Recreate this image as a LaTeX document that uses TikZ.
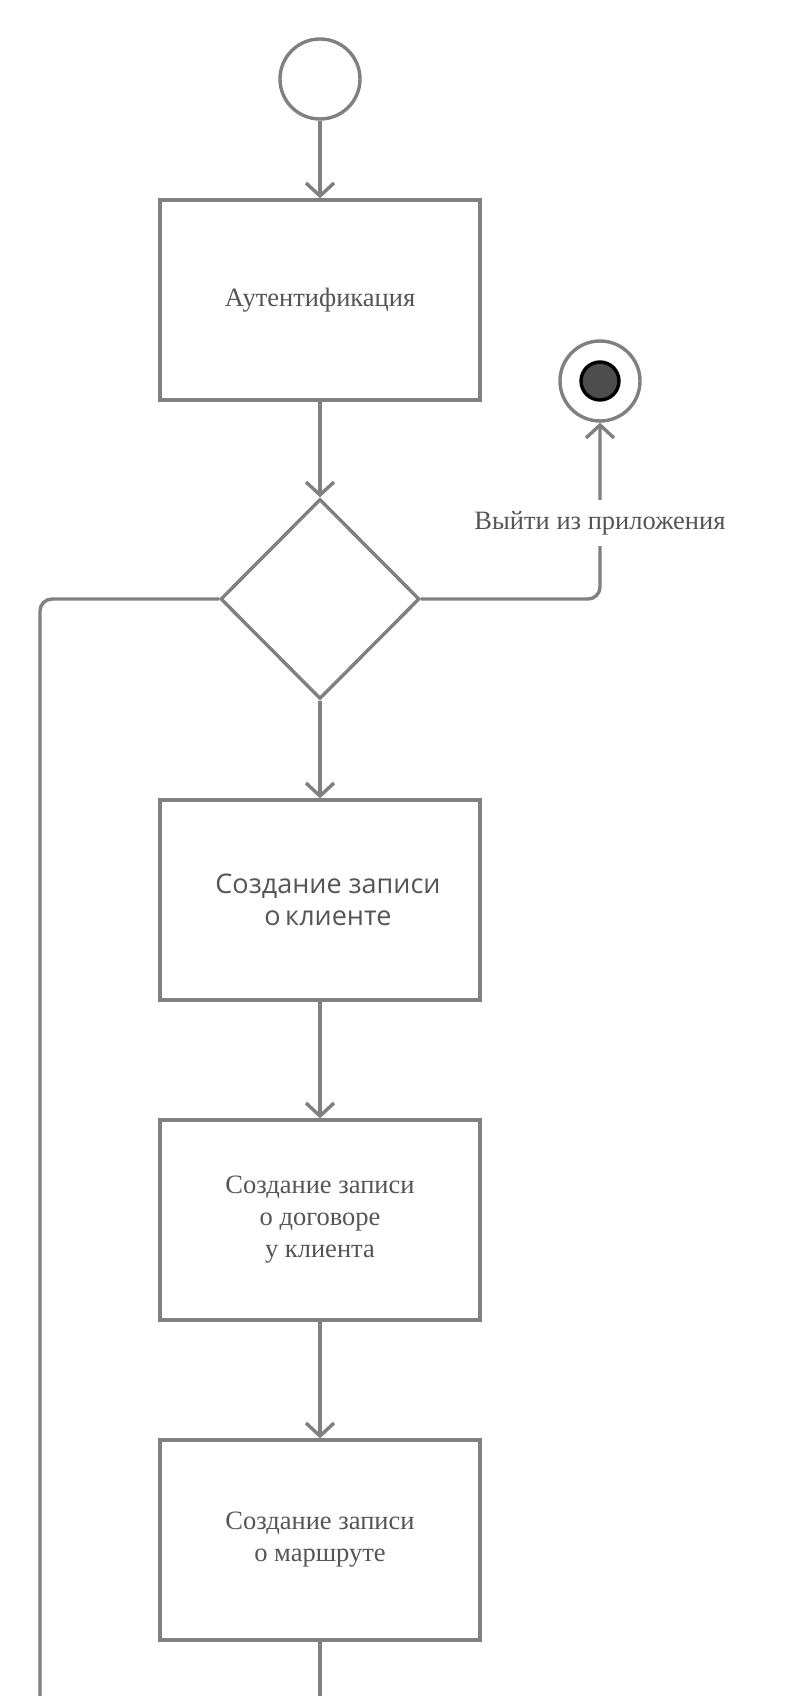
\documentclass[tikz,border=0pt]{standalone}
\usepackage{fontspec}
\setmainfont{Liberation Serif}
\newfontfamily\opensans{Open Sans}
\usetikzlibrary{arrows.meta,shapes.geometric}
\definecolor{linegray}{HTML}{808080}
\definecolor{textgray}{HTML}{555555}
\definecolor{dotfill}{HTML}{4D4D4D}
\begin{document}
\begin{tikzpicture}[x=1pt,y=-1pt,
  line/.style={draw=linegray, line width=3.4pt},
  conn/.style={line, -{Straight Barb[length=13pt,width=28pt]}, rounded corners=12pt},
  plain/.style={line, rounded corners=12pt},
  box/.style={line, fill=white, rectangle, minimum width=320pt, minimum height=200pt, inner sep=0pt, align=center, text=textgray, font=\fontsize{26.5}{32}\selectfont},
  sansbox/.style={box, font=\opensans\fontsize{27}{32}\selectfont},
  startnode/.style={line, circle, fill=white, minimum size=80pt, inner sep=0pt},
  endouter/.style={line, circle, fill=white, minimum size=80pt, inner sep=0pt},
  endinner/.style={circle, draw=black, line width=3.4pt, fill=dotfill, minimum size=38pt, inner sep=0pt},
  decision/.style={line, diamond, fill=white, aspect=1, minimum width=199pt, minimum height=200pt, inner sep=0pt},
  lbl/.style={fill=white, text=textgray, font=\fontsize{26.5}{30}\selectfont, inner xsep=2pt, inner ysep=11pt}
]
\useasboundingbox (0,0) rectangle (788,1696);
\fill[white] (0,0) rectangle (788,1696);

\node[startnode] (start) at (320,79) {};
\node[box] (auth) at (320,300) {Аутентификация};
\node[decision] (dec) at (320,599) {};
\node[endouter] (fin) at (600,381) {};
\node[endinner] (fininner) at (600,381) {};
\node[sansbox] (client) at (320,900) {\hspace*{16pt}Создание записи\\\hspace*{16pt}о\,клиенте};
\node[box] (contract) at (320,1220) {Создание записи\\о договоре\\у клиента};
\node[box] (route) at (320,1540) {Создание записи\\о маршруте};
\coordinate (leftend) at (40,1720);
\coordinate (bottomend) at (320,1720);

\draw[conn] (start.south) -- (auth.north);
\draw[conn] (auth.south) -- (dec.north);
\draw[conn] (dec.south) -- (client.north);
\draw[conn] (client.south) -- (contract.north);
\draw[conn] (contract.south) -- (route.north);
\draw[plain] (route.south) -- (bottomend);
\draw[plain] (dec.west) -| (leftend);
\draw[conn] (dec.east) -| (fin.south);
\node[lbl] (exitlbl) at (600,523) {Выйти из приложения};
\end{tikzpicture}
\end{document}
